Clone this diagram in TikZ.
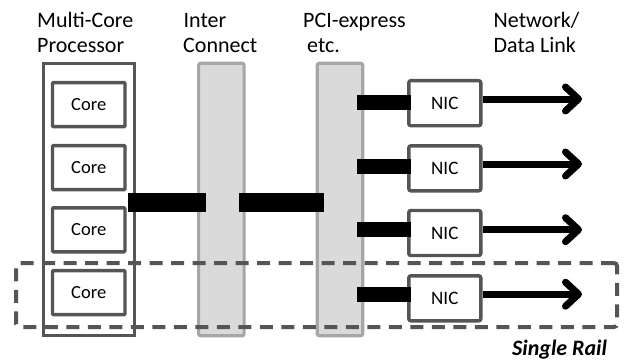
\documentclass[tikz,border=0pt]{standalone}
\usepackage{fontspec}
\setmainfont{Carlito}
\usetikzlibrary{arrows.meta}
\definecolor{dk}{HTML}{555555}
\definecolor{bb}{HTML}{A6A6A6}
\definecolor{bf}{HTML}{DADADA}
\begin{document}
\begin{tikzpicture}[x=1pt,y=-1pt,
  lbl/.style={anchor=base west,inner sep=0pt,font=\fontsize{22}{26}\selectfont},
  procbox/.style={draw=dk,line width=3.4pt,minimum width=91pt,minimum height=272.4pt,inner sep=0pt},
  corebox/.style={draw=dk,line width=3.4pt,minimum width=72.5pt,minimum height=44pt,inner sep=0pt,font=\fontsize{18.5}{22}\selectfont,rounded corners=1pt},
  nicbox/.style={draw=dk,line width=3.4pt,minimum width=72pt,minimum height=45pt,inner sep=0pt,font=\fontsize{19}{22}\selectfont,rounded corners=2pt},
  busbar/.style={draw=bb,fill=bf,line width=3.2pt,rounded corners=2pt,minimum width=45.5pt,minimum height=272.4pt,inner sep=0pt},
  biglink/.style={line width=19pt,black},
  niclink/.style={line width=15pt,black},
  netarrow/.style={line width=7pt,black,line join=round,-{Straight Barb[length=13pt,width=24pt,line join=round,line cap=round]}},
  railbox/.style={draw=dk,line width=4pt,dash pattern=on 13pt off 8.5pt,rounded corners=3pt,minimum width=601pt,minimum height=64pt,inner sep=0pt}
]
\useasboundingbox (0,0) rectangle (624,361);

% labels
\node[lbl] (l1a) at (37,27.3) {Multi-Core};
\node[lbl] (l1b) at (37,52.7) {Processor};
\node[lbl] (l2a) at (183.5,27.3) {Inter};
\node[lbl] (l2b) at (183,52.7) {Connect};
\node[lbl] (l3a) at (303,27.3) {PCI-express};
\node[lbl] (l3b) at (307,52.7) {etc.};
\node[lbl] (l4a) at (493.5,27.3) {Network/};
\node[lbl] (l4b) at (493.5,52.7) {Data Link};

% processor and buses
\node[procbox] (mc) at (88.8,199.5) {};
\node[busbar] (ic) at (221.35,199.5) {};
\node[busbar] (pci) at (340,199.5) {};

% cores
\node[corebox] (c1) at (88.75,104.6) {Core};
\node[corebox] (c2) at (88.75,167.6) {Core};
\node[corebox] (c3) at (88.75,229.8) {Core};
\node[corebox] (c4) at (88.75,292.6) {Core};

% NICs
\node[nicbox] (n1) at (444.8,103.2) {NIC};
\node[nicbox] (n2) at (444.8,168.3) {NIC};
\node[nicbox] (n3) at (444.8,233) {NIC};
\node[nicbox] (n4) at (444.8,298.3) {NIC};

% links
\coordinate (b1s) at (128,202.8);
\coordinate (b1e) at (206,202.8);
\coordinate (b2s) at (239,202.8);
\coordinate (b2e) at (324,202.8);
\draw[biglink] (b1s) -- (b1e);
\draw[biglink] (b2s) -- (b2e);

\coordinate (p1) at (357,102.8);
\coordinate (p2) at (357,166.3);
\coordinate (p3) at (357,229.8);
\coordinate (p4) at (357,294.2);
\draw[niclink] (p1) -- ([xshift=4pt]n1.west |- p1);
\draw[niclink] (p2) -- ([xshift=4pt]n2.west |- p2);
\draw[niclink] (p3) -- ([xshift=4pt]n3.west |- p3);
\draw[niclink] (p4) -- ([xshift=4pt]n4.west |- p4);

\coordinate (t1) at (582,99);
\coordinate (t2) at (582,164);
\coordinate (t3) at (582,229.7);
\coordinate (t4) at (582,294.2);
\draw[netarrow] (n1.east |- t1) -- (t1);
\draw[netarrow] (n2.east |- t2) -- (t2);
\draw[netarrow] (n3.east |- t3) -- (t3);
\draw[netarrow] (n4.east |- t4) -- (t4);

% single rail
\node[railbox] (rail) at (316.5,295) {};
\node[anchor=base west,inner sep=0pt,font=\fontsize{22}{26}\selectfont\bfseries\itshape] (rl) at (512,355) {Single Rail};
\end{tikzpicture}
\end{document}
